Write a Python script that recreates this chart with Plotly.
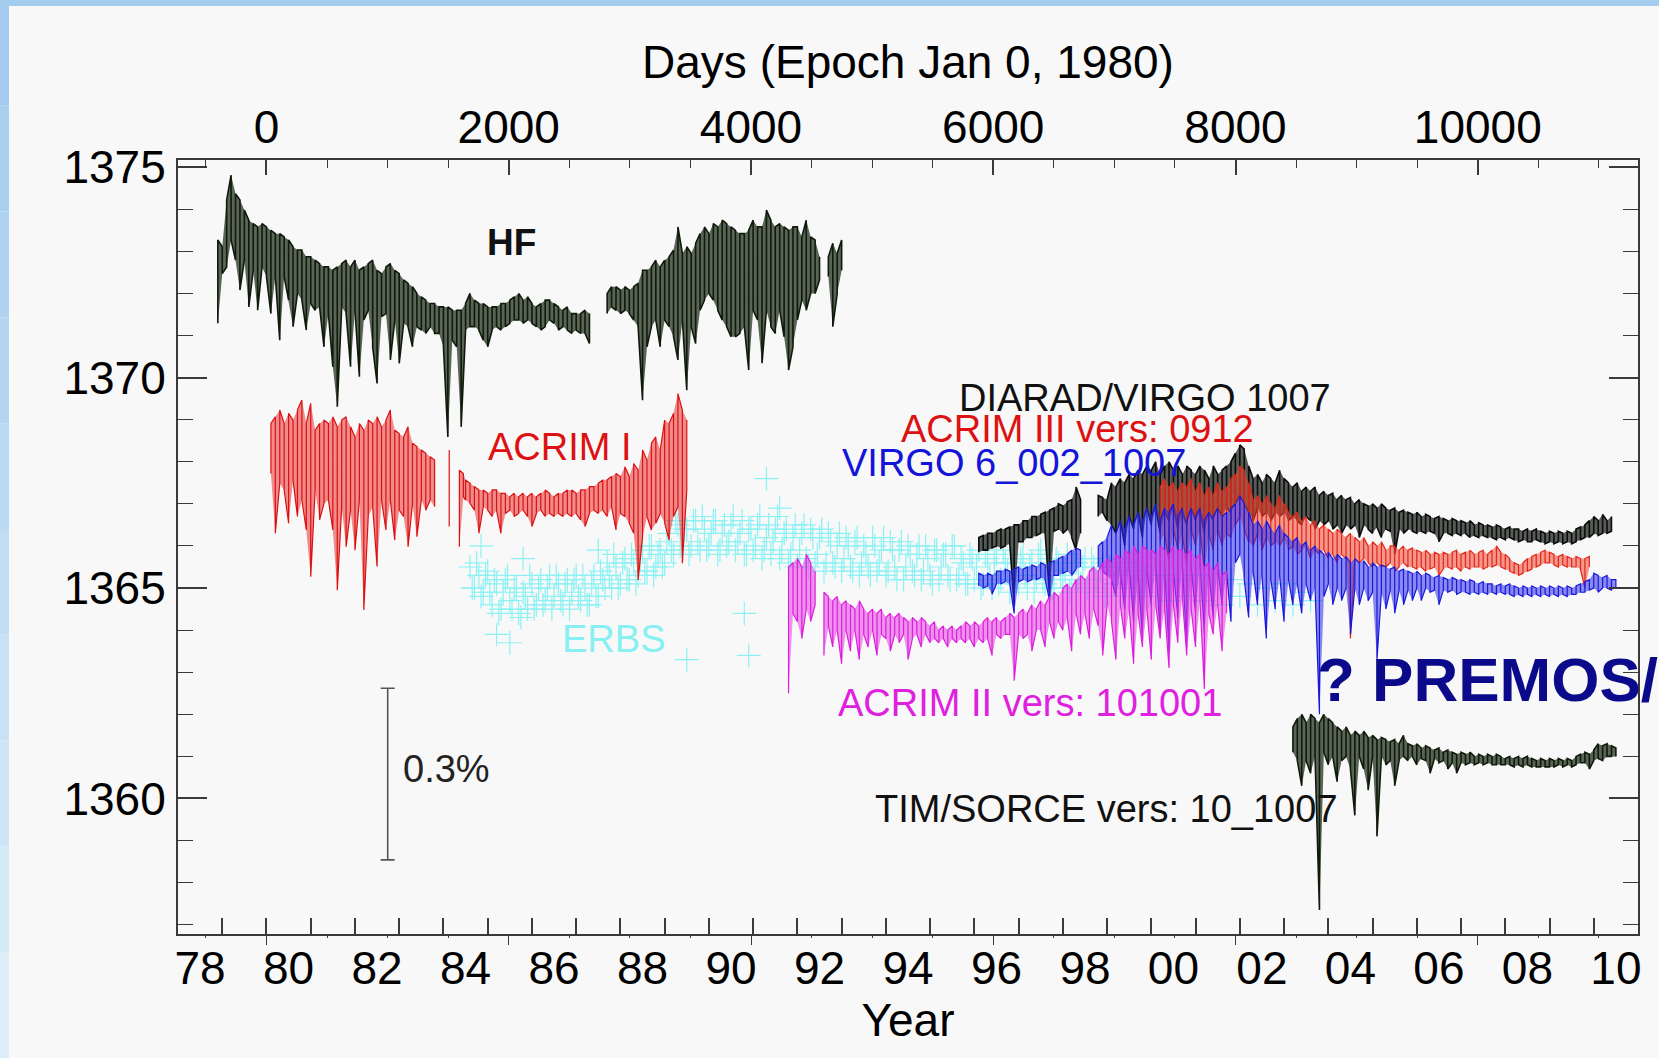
import plotly.graph_objects as go

# ---------------- data ----------------
hf_year = [1978.9,1979.0,1979.1,1979.2,1979.3,1979.4,1979.5,1979.6,1979.7,1979.8,1979.9,
           1980.0,1980.1,1980.2,1980.3,1980.4,1980.5,1980.6,1980.7,1980.8,1980.9,
           1981.0,1981.1,1981.2,1981.3,1981.4,1981.5,1981.6,1981.7,1981.8,1981.9,
           1982.0,1982.1,1982.2,1982.3,1982.4,1982.5,1982.6,1982.7,1982.8,1982.9,
           1983.0,1983.1,1983.2,1983.3,1983.4,1983.5,1983.6,1983.7,1983.8,1983.9,
           1984.0,1984.1,1984.2,1984.3,1984.4,1984.5,1984.6,1984.7,1984.8,1984.9,
           1985.0,1985.1,1985.2,1985.3,1985.4,1985.5,1985.6,1985.7,1985.8,1985.9,
           1986.0,1986.1,1986.2,1986.3,1986.4,1986.5,1986.6,1986.7,1986.8,1986.9,
           1987.0,1987.1,1987.2,1987.3,
           1987.7,1987.8,1987.9,1988.0,1988.1,1988.2,1988.3,1988.4,1988.5,1988.6,1988.7,1988.8,1988.9,
           1989.0,1989.1,1989.2,1989.3,1989.4,1989.5,1989.6,1989.7,1989.8,1989.9,
           1990.0,1990.1,1990.2,1990.3,1990.4,1990.5,1990.6,1990.7,1990.8,1990.9,
           1991.0,1991.1,1991.2,1991.3,1991.4,1991.5,1991.6,1991.7,1991.8,1991.9,
           1992.0,1992.1,1992.2,1992.3,1992.4,1992.5,
           1992.7,1992.8,1992.9,1993.0]
hf_hi = [1373.27,1373.11,1374.22,1374.81,1374.37,1374.22,1373.98,1373.74,1373.66,1373.58,1373.66,
         1373.58,1373.50,1373.42,1373.42,1373.34,1373.27,1373.11,1373.03,1373.03,1372.87,
         1372.87,1372.79,1372.71,1372.63,1372.63,1372.55,1372.63,1372.71,1372.79,1372.63,
         1372.79,1372.55,1372.63,1372.71,1372.79,1372.55,1372.47,1372.63,1372.71,1372.55,
         1372.47,1372.32,1372.24,1372.16,1372.00,1371.92,1371.84,1371.76,1371.76,1371.68,
         1371.68,1371.68,1371.60,1371.60,1371.60,1371.76,1372.00,1371.84,1371.76,1371.76,
         1371.68,1371.68,1371.68,1371.76,1371.76,1371.84,1371.92,1372.00,1371.84,1371.92,
         1371.76,1371.68,1371.76,1371.84,1371.84,1371.76,1371.68,1371.60,1371.68,1371.52,
         1371.52,1371.52,1371.60,1371.52,
         1372.00,1372.16,1372.16,1372.08,1372.16,1372.08,1372.16,1372.24,1372.55,1372.55,1372.63,1372.79,1372.63,
         1372.79,1372.87,1373.03,1373.58,1372.95,1373.11,1372.95,1373.19,1373.42,1373.58,
         1373.42,1373.66,1373.58,1373.74,1373.66,1373.58,1373.50,1373.42,1373.42,1373.50,
         1373.74,1373.58,1373.58,1373.98,1373.74,1373.58,1373.66,1373.58,1373.50,1373.58,
         1373.58,1373.34,1373.74,1373.34,1373.27,1372.87,
         1372.87,1373.19,1372.95,1373.27]
hf_lo = [1371.29,1372.47,1372.63,1373.27,1372.79,1372.08,1372.79,1371.68,1372.55,1371.60,1372.63,
         1372.40,1371.52,1372.40,1370.89,1372.40,1371.84,1371.21,1372.00,1371.84,1371.13,
         1371.76,1371.60,1371.68,1370.73,1371.52,1370.26,1369.31,1371.68,1371.52,1370.26,
         1371.60,1370.02,1371.37,1371.60,1370.73,1369.86,1371.45,1371.52,1370.42,1371.37,
         1370.34,1371.29,1371.21,1370.73,1371.21,1371.13,1371.05,1371.21,1371.05,1371.05,
         1370.73,1368.59,1370.89,1370.73,1368.83,1371.13,1371.21,1371.21,1371.13,1370.89,
         1370.73,1371.13,1371.21,1371.13,1371.21,1371.29,1371.37,1371.37,1371.29,1371.37,
         1371.29,1371.21,1371.13,1371.21,1371.37,1371.29,1371.13,1371.21,1371.13,1371.05,
         1371.13,1371.05,1371.05,1370.81,
         1371.52,1371.68,1371.60,1371.52,1371.60,1371.52,1371.37,1371.21,1369.46,1370.73,1371.21,1371.37,1370.73,
         1371.37,1371.21,1370.97,1370.42,1371.37,1369.70,1371.21,1370.81,1371.60,1371.84,
         1372.00,1371.84,1371.60,1371.37,1371.21,1370.97,1370.97,1371.05,1371.21,1370.18,
         1371.60,1371.37,1370.34,1371.60,1371.21,1371.05,1371.60,1370.97,1370.18,1370.73,
         1371.37,1371.84,1371.60,1372.00,1372.00,1372.32,
         1372.40,1371.21,1372.00,1372.55]

acrim1_year = [1980.1,1980.2,1980.3,1980.4,1980.5,1980.6,1980.7,1980.8,1980.9,
               1981.0,1981.1,1981.2,1981.3,1981.4,1981.5,1981.6,1981.7,1981.8,1981.9,
               1982.0,1982.1,1982.2,1982.3,1982.4,1982.5,1982.6,1982.7,1982.8,1982.9,
               1983.0,1983.1,1983.2,1983.3,1983.4,1983.5,1983.6,1983.7,1983.8,
               1984.13,
               1984.36,1984.45,1984.5,1984.6,1984.7,1984.8,1984.9,
               1985.0,1985.1,1985.2,1985.3,1985.4,1985.5,1985.6,1985.7,1985.8,1985.9,
               1986.0,1986.1,1986.2,1986.3,1986.4,1986.5,1986.6,1986.7,1986.8,1986.9,
               1987.0,1987.1,1987.2,1987.3,1987.4,1987.5,1987.6,1987.7,1987.8,1987.9,
               1988.0,1988.1,1988.2,1988.3,1988.4,1988.5,1988.6,1988.7,1988.8,1988.9,
               1989.0,1989.1,1989.2,1989.3,1989.4,1989.5]
acrim1_hi = [1368.91,1369.07,1369.23,1368.91,1369.15,1368.99,1369.23,1369.47,1368.91,
             1369.39,1368.75,1368.91,1368.99,1368.91,1369.07,1368.83,1368.99,1369.07,1368.83,
             1368.59,1368.91,1368.75,1368.99,1368.91,1369.07,1368.83,1368.99,1369.23,1368.75,
             1368.67,1368.59,1368.83,1368.44,1368.36,1368.28,1368.20,1368.12,1368.04,
             1368.28,
             1367.80,1367.72,1367.57,1367.49,1367.41,1367.33,1367.33,
             1367.25,1367.33,1367.33,1367.25,1367.25,1367.17,1367.25,1367.17,1367.25,1367.17,
             1367.25,1367.17,1367.25,1367.33,1367.25,1367.17,1367.25,1367.25,1367.33,1367.33,
             1367.25,1367.33,1367.33,1367.41,1367.41,1367.49,1367.57,1367.57,1367.65,1367.72,
             1367.65,1367.88,1367.65,1367.96,1367.80,1368.28,1368.04,1368.44,1368.59,1368.28,
             1368.99,1368.91,1369.15,1369.62,1369.23,1368.99]
acrim1_lo = [1367.72,1366.30,1367.49,1367.33,1366.54,1367.57,1366.70,1367.09,1366.38,
             1365.27,1367.33,1366.62,1367.01,1367.09,1366.38,1364.95,1366.93,1365.98,1366.85,
             1365.90,1367.09,1364.48,1366.70,1366.93,1365.51,1367.09,1366.38,1367.09,1366.14,
             1366.85,1366.70,1365.98,1367.01,1366.22,1367.09,1366.85,1367.09,1366.93,
             1366.46,
             1365.98,1367.17,1367.09,1367.01,1366.85,1366.30,1366.93,
             1366.85,1366.70,1366.85,1366.30,1366.77,1366.85,1366.70,1366.77,1366.85,1366.70,
             1366.46,1366.77,1366.85,1366.70,1366.77,1366.70,1366.77,1366.70,1366.77,1366.70,
             1366.77,1366.62,1366.46,1366.77,1366.85,1366.77,1366.85,1366.70,1366.93,1366.38,
             1366.77,1366.70,1366.54,1366.30,1365.19,1366.22,1366.70,1366.38,1366.54,1366.77,
             1366.54,1366.14,1366.70,1366.93,1365.59,1367.33]

erbs_year = [1984.6,1984.7,1984.8,1984.85,1984.9,1985.0,1985.1,1985.2,1985.2,1985.3,1985.4,1985.5,1985.5,
             1985.6,1985.7,1985.8,1985.8,1985.9,1986.0,1986.1,1986.2,1986.3,1986.4,1986.5,1986.6,
             1986.7,1986.8,1986.9,1987.0,1987.1,1987.2,1987.3,1987.4,1987.5,1987.5,1987.6,1987.7,
             1987.8,1987.9,1988.0,1988.1,1988.2,1988.3,1988.4,1988.5,1988.6,1988.7,1988.8,1988.9,
             1989.0,1989.1,1989.2,1989.3,1989.4,1989.5,1989.5,1989.6,1989.7,1989.8,1989.9,
             1990.0,1990.1,1990.2,1990.3,1990.4,1990.5,1990.6,1990.7,1990.8,1990.8,1990.9,1990.9,
             1991.0,1991.1,1991.2,1991.3,1991.3,1991.4,1991.5,1991.6,1991.6,1991.7,1991.8,1991.9,
             1992.0,1992.1,1992.2,1992.3,1992.4,1992.5,1992.6,1992.7,1992.8,1992.9,
             1993.0,1993.1,1993.2,1993.3,1993.4,1993.5,1993.6,1993.7,1993.8,1993.9,
             1994.0,1994.1,1994.2,1994.3,1994.4,1994.5,1994.6,1994.7,1994.8,1994.9,
             1995.0,1995.1,1995.2,1995.3,1995.4,1995.5,1995.6,1995.7,1995.8,1995.9,
             1996.0,1996.1,1996.2,1996.3,1996.4,1996.5,1996.6,1996.7,1996.8,1996.9,
             1997.0,1997.1,1997.2,1997.3,1997.4,1997.5,1997.6,1997.7,1997.8,1997.9,
             1998.0,1998.1,1998.2,1998.3,1998.4,1998.5,1998.6,1998.7,1998.8,1998.9,
             1999.0,1999.1,1999.2,1999.3,1999.4,1999.5,1999.6,1999.7,1999.8,1999.9,
             2000.0,2000.2,2000.4,2000.6,2000.8,2001.0,2001.2,2001.4,2001.6,2001.8,
             2002.0,2002.2,2002.4,2002.6,2002.8,2003.0,2003.2,2003.4,2003.6]
erbs_tsi = [1365.5,1365.0,1365.3,1366.0,1364.9,1365.4,1364.6,1365.1,1363.9,1364.5,1365.2,1364.7,1363.7,
            1365.0,1364.4,1365.7,1364.9,1364.5,1365.1,1364.6,1365.2,1364.7,1365.3,1364.8,1365.1,
            1364.6,1365.2,1364.9,1365.3,1364.7,1365.0,1364.6,1365.3,1365.9,1364.8,1365.2,1365.6,
            1365.0,1365.5,1365.1,1365.7,1365.2,1365.6,1365.3,1365.9,1365.4,1366.0,1365.5,1365.9,
            1365.6,1366.3,1365.8,1366.5,1365.9,1366.4,1363.3,1366.0,1366.6,1365.9,1366.4,
            1366.0,1366.6,1365.8,1366.3,1366.0,1366.5,1365.9,1366.3,1364.4,1365.8,1366.4,1363.4,
            1365.9,1366.5,1365.7,1367.6,1366.2,1365.8,1366.4,1366.9,1365.7,1366.3,1365.6,1366.2,
            1365.5,1366.3,1365.7,1366.4,1365.6,1366.2,1365.4,1366.3,1365.6,1366.0,
            1365.4,1366.2,1365.5,1366.1,1365.3,1366.0,1365.5,1366.2,1365.4,1365.9,
            1365.3,1366.1,1365.5,1365.9,1365.2,1366.0,1365.4,1365.8,1365.2,1366.0,
            1365.3,1365.9,1365.2,1365.8,1365.3,1366.0,1365.2,1365.7,1365.1,1365.8,
            1365.2,1365.9,1365.1,1365.7,1365.0,1365.8,1365.2,1365.6,1364.9,1365.7,
            1365.1,1365.8,1365.0,1365.6,1365.2,1365.9,1365.1,1365.7,1365.0,1365.6,
            1365.2,1365.8,1365.0,1365.6,1365.1,1365.7,1364.9,1365.5,1365.0,1365.6,
            1364.9,1365.5,1365.1,1365.7,1365.0,1365.4,1364.8,1365.5,1364.9,1365.3,
            1364.8,1365.3,1364.7,1365.2,1364.8,1365.3,1364.7,1365.1,1364.6,1365.2,
            1364.8,1365.1,1364.6,1365.0,1364.7,1365.1,1364.6,1364.9,1364.7]
erbs_year_b = [1984.65,1984.75,1984.85,1984.95,1985.05,
               1985.15,1985.25,1985.35,1985.45,1985.55,1985.65,1985.75,1985.85,1985.95,1986.05,1986.15,1986.25,
               1986.35,1986.45,1986.55,1986.65,1986.75,1986.85,1986.95,1987.05,1987.15,1987.25,1987.35,1987.45,1987.55,1987.65,
               1987.75,1987.85,1987.95,1988.05,1988.15,1988.25,1988.35,1988.45,
               1988.55,1988.65,1988.75,1988.85,1988.95,1989.05,
               1989.15,1989.25,1989.35,1989.45,1989.55,1989.65,1989.75,1989.85,1989.95,1990.05,1990.15,1990.25,1990.35,1990.45,1990.55,
               1990.65,1990.75,1990.85,1990.95,1991.05,1991.15,1991.25,1991.35,1991.45,1991.55,1991.65,1991.75,1991.85,1991.95,
               1992.05,1992.15,1992.25,1992.35,1992.45,1992.55,1992.65,1992.75,1992.85,1992.95,1993.05,1993.15,1993.25,1993.35,1993.45,
               1993.55,1993.65,1993.75,1993.85,1993.95,1994.05,1994.15,1994.25,1994.35,1994.45,1994.55,1994.65,1994.75,1994.85,1994.95,
               1995.05,1995.15,1995.25,1995.35,1995.45,1995.55,1995.65,1995.75,1995.85,1995.95,
               1996.05,1996.15,1996.25,1996.35,1996.45,1996.55,1996.65,1996.75,1996.85,1996.95,
               1997.05,1997.15,1997.25,1997.35,1997.45,1997.55,1997.65,1997.75,1997.85,1997.95,
               1998.05,1998.15,1998.25,1998.35,1998.45,1998.55,1998.65,1998.75,1998.85,1998.95,
               1999.05,1999.15,1999.25,1999.35,1999.45,1999.55,1999.65,1999.75,1999.85,1999.95]
erbs_tsi_b = [1365.0,1365.6,1364.8,1365.3,1364.9,
              1365.2,1364.4,1364.9,1365.3,1364.5,1365.0,1364.3,1364.8,1365.3,1364.5,1365.0,1364.6,
              1365.0,1364.5,1365.3,1364.7,1365.1,1364.5,1365.2,1364.8,1365.3,1364.6,1365.1,1364.8,1365.4,1365.0,
              1365.3,1365.8,1365.0,1365.6,1365.2,1365.8,1365.1,1365.7,
              1365.4,1366.0,1365.3,1365.8,1365.5,1366.1,
              1365.9,1366.6,1366.0,1366.4,1365.8,1366.6,1366.1,1366.7,1365.9,1366.3,1366.6,1365.9,1366.5,1366.1,1366.7,
              1366.1,1366.6,1365.8,1366.4,1366.0,1366.7,1365.9,1366.5,1366.1,1366.7,1365.9,1366.4,1365.8,1366.5,
              1365.9,1366.5,1365.5,1366.2,1365.8,1366.4,1365.6,1366.1,1365.5,1366.3,1365.7,1366.0,1365.4,1366.2,1365.6,
              1365.8,1365.3,1366.0,1365.6,1366.2,1365.4,1365.9,1365.2,1366.1,1365.5,1365.8,1365.3,1366.0,1365.4,1365.7,
              1365.1,1365.9,1365.5,1365.8,1365.2,1366.0,1365.3,1365.6,1365.1,1365.7,
              1365.5,1365.0,1365.8,1365.3,1365.6,1365.1,1365.9,1365.4,1365.6,1365.2,
              1365.7,1365.3,1365.5,1364.9,1365.8,1365.2,1365.6,1365.0,1365.7,1365.3,
              1365.4,1364.9,1365.6,1365.2,1365.5,1365.0,1365.7,1365.2,1365.4,1364.8,
              1365.5,1365.1,1365.3,1364.8,1365.6,1365.0,1365.4,1364.9,1365.2,1364.8]

acrim2_year = [1991.8,1991.9,1992.0,1992.1,1992.2,1992.3,1992.4,
               1992.6,1992.7,1992.8,1992.9,1993.0,1993.1,1993.2,1993.3,1993.4,1993.5,1993.6,1993.7,1993.8,1993.9,
               1994.0,1994.1,1994.2,1994.3,1994.4,1994.5,1994.6,1994.7,1994.8,1994.9,
               1995.0,1995.1,1995.2,1995.3,1995.4,1995.5,1995.6,1995.7,1995.8,1995.9,
               1996.0,1996.1,1996.2,1996.3,1996.4,1996.5,1996.6,1996.7,1996.8,1996.9,
               1997.0,1997.1,1997.2,1997.3,1997.4,1997.5,1997.6,1997.7,1997.8,1997.9,
               1998.0,1998.1,1998.2,1998.3,1998.4,1998.5,1998.6,1998.7,1998.8,1998.9,
               1999.0,1999.1,1999.2,1999.3,1999.4,1999.5,1999.6,1999.7,1999.8,1999.9,
               2000.0,2000.1,2000.2,2000.3,2000.4,2000.5,2000.6,2000.7,2000.8,2000.9,
               2001.0,2001.1,2001.2,2001.3,2001.4,2001.5,2001.6,2001.7]
acrim2_hi = [1365.5,1365.6,1365.7,1365.5,1365.8,1365.6,1365.4,
             1364.9,1364.8,1364.7,1364.8,1364.6,1364.7,1364.6,1364.5,1364.7,1364.5,1364.4,1364.5,1364.4,1364.5,
             1364.3,1364.4,1364.3,1364.4,1364.3,1364.2,1364.3,1364.2,1364.3,1364.2,
             1364.1,1364.2,1364.0,1364.1,1364.0,1364.1,1364.0,1364.1,1364.2,1364.1,
             1364.2,1364.1,1364.2,1364.3,1364.2,1364.3,1364.2,1364.3,1364.4,1364.3,
             1364.4,1364.5,1364.4,1364.6,1364.5,1364.7,1364.6,1364.8,1364.9,1364.8,
             1365.0,1365.1,1365.0,1365.2,1365.3,1365.2,1365.4,1365.5,1365.4,1365.6,
             1365.7,1365.6,1365.8,1365.7,1365.9,1365.8,1366.0,1365.8,1366.0,1365.9,
             1365.9,1365.8,1366.0,1365.9,1365.8,1366.0,1365.9,1365.9,1365.8,1365.9,
             1365.7,1365.8,1365.5,1365.6,1365.4,1365.6,1365.3,1365.4]
acrim2_lo = [1362.5,1364.4,1364.2,1363.8,1364.5,1364.2,1364.6,
             1363.4,1364.1,1363.6,1364.0,1363.2,1364.0,1363.5,1364.0,1363.3,1363.9,1363.6,1364.0,1363.4,1363.9,
             1363.8,1363.5,1363.9,1363.7,1363.9,1363.3,1363.8,1363.9,1363.6,1363.9,
             1363.7,1363.8,1363.7,1363.8,1363.6,1363.8,1363.7,1363.8,1363.7,1363.8,
             1363.6,1363.8,1363.7,1363.8,1363.4,1363.9,1363.8,1363.9,1363.9,1362.8,
             1363.9,1363.8,1363.9,1363.5,1364.0,1364.0,1363.6,1364.2,1363.8,1364.2,
             1364.0,1364.3,1363.5,1364.4,1363.9,1364.4,1363.8,1364.5,1364.1,1363.4,
             1364.6,1364.2,1363.3,1364.6,1363.8,1364.5,1363.2,1364.4,1363.6,1364.5,
             1363.3,1364.6,1363.8,1364.5,1363.1,1364.6,1363.7,1364.8,1363.4,1364.5,
             1363.6,1364.7,1362.6,1364.4,1363.9,1364.6,1363.5,1364.4]

diarad_year = [1996.1,1996.2,1996.3,1996.4,1996.5,1996.6,1996.7,1996.8,1996.9,
               1997.0,1997.1,1997.2,1997.3,1997.4,1997.5,1997.6,1997.7,1997.8,1997.9,
               1998.0,1998.1,1998.2,1998.3,1998.4,
               1998.8,1998.9,1999.0,1999.1,1999.2,1999.3,1999.4,1999.5,1999.6,1999.7,1999.8,1999.9,
               2000.0,2000.1,2000.2,2000.3,2000.4,2000.5,2000.6,2000.7,2000.8,2000.9,
               2001.0,2001.1,2001.2,2001.3,2001.4,2001.5,2001.6,2001.7,2001.8,2001.9,
               2002.0,2002.1,2002.2,2002.3,2002.4,2002.5,2002.6,2002.7,2002.8,2002.9,
               2003.0,2003.1,2003.2,2003.3,2003.4,2003.5,2003.6,2003.7,2003.8,2003.9,
               2004.0,2004.1,2004.2,2004.3,2004.4,2004.5,2004.6,2004.7,2004.8,2004.9,
               2005.0,2005.1,2005.2,2005.3,2005.4,2005.5,2005.6,2005.7,2005.8,2005.9,
               2006.0,2006.1,2006.2,2006.3,2006.4,2006.5,2006.6,2006.7,2006.8,2006.9,
               2007.0,2007.1,2007.2,2007.3,2007.4,2007.5,2007.6,2007.7,2007.8,2007.9,
               2008.0,2008.1,2008.2,2008.3,2008.4,2008.5,2008.6,2008.7,2008.8,2008.9,
               2009.0,2009.1,2009.2,2009.3,2009.4,2009.5,2009.6,2009.7,2009.8,2009.9,
               2010.0,2010.1,2010.2,2010.3,2010.4]
diarad_hi = [1366.2,1366.25,1366.3,1366.3,1366.35,1366.4,1366.4,1366.45,1366.5,
             1366.5,1366.6,1366.6,1366.7,1366.7,1366.75,1366.8,1366.85,1366.9,1367.0,
             1366.95,1367.05,1367.1,1367.4,1367.1,
             1367.2,1367.15,1367.1,1367.5,1367.4,1367.6,1367.5,1367.7,1367.6,1367.8,1367.7,1367.9,
             1367.8,1368.0,1367.7,1367.9,1368.0,1367.8,1367.9,1367.7,1367.9,1367.8,
             1367.7,1367.9,1367.8,1367.6,1367.9,1367.7,1367.8,1367.9,1368.0,1368.2,
             1368.4,1368.3,1367.9,1367.6,1367.7,1367.5,1367.7,1367.6,1367.5,1367.8,
             1367.6,1367.5,1367.4,1367.5,1367.3,1367.4,1367.3,1367.4,1367.2,1367.3,
             1367.2,1367.25,1367.1,1367.2,1367.1,1367.15,1367.0,1367.1,1367.0,1366.95,
             1367.0,1366.9,1367.0,1366.9,1366.85,1366.9,1366.8,1366.85,1366.8,1366.75,
             1366.8,1366.7,1366.75,1366.7,1366.65,1366.7,1366.65,1366.6,1366.65,1366.6,
             1366.6,1366.55,1366.6,1366.5,1366.55,1366.5,1366.5,1366.45,1366.5,1366.45,
             1366.4,1366.45,1366.4,1366.4,1366.35,1366.4,1366.35,1366.4,1366.35,1366.3,
             1366.35,1366.3,1366.35,1366.3,1366.35,1366.3,1366.4,1366.45,1366.5,1366.6,
             1366.7,1366.6,1366.75,1366.6,1366.7]
diarad_lo = [1365.85,1365.9,1365.9,1365.95,1366.0,1365.95,1366.0,1366.05,1364.6,
             1366.1,1366.1,1366.2,1366.2,1366.25,1366.3,1366.3,1364.8,1366.35,1366.4,
             1366.3,1366.4,1366.2,1365.9,1366.3,
             1366.7,1366.8,1366.6,1366.5,1366.3,1366.6,1366.0,1366.7,1366.4,1366.8,1366.2,1366.9,
             1366.5,1366.9,1366.3,1366.8,1366.6,1366.9,1366.4,1366.8,1366.5,1366.9,
             1366.6,1366.8,1366.3,1366.8,1366.6,1366.9,1366.7,1366.9,1366.8,1367.0,
             1367.2,1367.0,1366.8,1366.6,1366.9,1366.7,1366.8,1366.6,1366.8,1366.7,
             1366.8,1366.6,1366.7,1366.6,1366.5,1366.7,1366.6,1366.4,1366.6,1366.5,
             1366.6,1366.4,1366.5,1366.3,1366.5,1366.4,1366.5,1366.2,1366.5,1366.4,
             1366.3,1366.45,1366.2,1366.4,1366.35,1365.8,1366.4,1366.3,1366.4,1366.35,
             1366.3,1366.35,1366.3,1366.35,1366.3,1366.1,1366.3,1366.3,1366.25,1366.3,
             1366.25,1366.3,1366.2,1366.25,1366.2,1366.25,1366.2,1366.2,1366.15,1366.2,
             1366.15,1366.2,1366.15,1366.1,1366.15,1366.1,1366.1,1366.15,1366.1,1366.05,
             1366.1,1366.05,1366.1,1366.05,1366.1,1366.05,1366.1,1366.15,1366.2,1366.2,
             1366.3,1366.25,1366.3,1366.3,1366.35]

acrim3_year = [2000.2,2000.3,2000.4,2000.5,2000.6,2000.7,2000.8,2000.9,
               2001.0,2001.1,2001.2,2001.3,2001.4,2001.5,2001.6,2001.7,2001.8,2001.9,
               2002.0,2002.1,2002.2,2002.3,2002.4,2002.5,2002.6,2002.7,2002.8,2002.9,
               2003.0,2003.1,2003.2,2003.3,2003.4,2003.5,2003.6,2003.7,2003.8,2003.9,
               2004.0,2004.1,2004.2,2004.3,2004.4,2004.5,2004.6,2004.7,2004.8,2004.9,
               2005.0,2005.1,2005.2,2005.3,2005.4,2005.5,2005.6,2005.7,2005.8,2005.9,
               2006.0,2006.1,2006.2,2006.3,2006.4,2006.5,2006.6,2006.7,2006.8,2006.9,
               2007.0,2007.1,2007.2,2007.3,2007.4,2007.5,2007.6,2007.7,2007.8,2007.9,
               2008.0,2008.1,2008.2,2008.3,2008.4,2008.5,2008.6,2008.7,2008.8,2008.9,
               2009.0,2009.1,2009.2,2009.3,2009.4,2009.5,2009.6,2009.7,2009.8,2009.9]
acrim3_hi = [1367.4,1367.6,1367.4,1367.5,1367.3,1367.5,1367.4,1367.6,
             1367.3,1367.5,1367.2,1367.4,1367.2,1367.5,1367.3,1367.4,1367.6,1367.7,
             1367.9,1367.8,1367.5,1367.1,1367.2,1367.0,1367.2,1367.0,1366.9,1367.2,
             1367.0,1366.8,1366.7,1366.8,1366.6,1366.7,1366.5,1366.6,1366.4,1366.5,
             1366.4,1366.3,1366.4,1366.3,1366.2,1366.3,1366.2,1366.1,1366.2,1366.0,
             1366.1,1366.0,1366.1,1365.9,1366.0,1366.0,1365.9,1366.0,1365.9,1365.95,
             1365.9,1365.85,1365.9,1365.8,1365.85,1365.8,1365.85,1365.8,1365.85,1365.9,
             1365.8,1365.85,1365.9,1365.8,1365.85,1365.9,1365.8,1365.9,1366.0,1365.85,
             1365.8,1365.7,1365.6,1365.55,1365.6,1365.7,1365.75,1365.8,1365.85,1365.9,
             1365.85,1365.8,1365.75,1365.8,1365.75,1365.7,1365.75,1365.7,1365.7,1365.75]
acrim3_lo = [1366.1,1366.3,1365.6,1366.4,1365.9,1366.3,1365.5,1366.4,
             1366.0,1366.4,1365.4,1366.3,1365.9,1366.4,1366.0,1366.3,1366.2,1366.5,
             1366.7,1366.4,1366.1,1366.0,1366.3,1365.9,1366.2,1366.0,1366.1,1366.0,
             1366.2,1365.9,1366.0,1365.8,1365.9,1366.0,1365.7,1365.9,1365.8,1365.9,
             1365.7,1365.8,1365.6,1365.8,1365.7,1363.8,1365.7,1365.6,1365.7,1365.6,
             1365.5,1365.6,1365.5,1365.5,1365.6,1365.4,1365.5,1365.6,1365.5,1365.5,
             1365.45,1365.5,1365.4,1365.45,1365.5,1365.3,1365.45,1365.5,1365.45,1365.5,
             1365.4,1365.5,1365.45,1365.5,1365.5,1365.45,1365.5,1365.5,1365.55,1365.5,
             1365.45,1365.4,1365.35,1365.3,1365.35,1365.4,1365.45,1365.5,1365.55,1365.6,
             1365.6,1365.55,1365.5,1365.55,1365.5,1365.5,1365.5,1365.45,1365.0,1365.5]

virgo_year = [1996.1,1996.2,1996.3,1996.4,1996.5,1996.6,1996.7,1996.8,1996.9,
              1997.0,1997.1,1997.2,1997.3,1997.4,1997.5,1997.6,1997.7,1997.8,1997.9,
              1998.0,1998.1,1998.2,1998.3,1998.4,
              1998.8,1998.9,1999.0,1999.1,1999.2,1999.3,1999.4,1999.5,1999.6,1999.7,1999.8,1999.9,
              2000.0,2000.1,2000.2,2000.3,2000.4,2000.5,2000.6,2000.7,2000.8,2000.9,
              2001.0,2001.1,2001.2,2001.3,2001.4,2001.5,2001.6,2001.7,2001.8,2001.9,
              2002.0,2002.1,2002.2,2002.3,2002.4,2002.5,2002.6,2002.7,2002.8,2002.9,
              2003.0,2003.1,2003.2,2003.3,2003.4,2003.5,2003.6,2003.7,2003.8,2003.9,
              2004.0,2004.1,2004.2,2004.3,2004.4,2004.5,2004.6,2004.7,2004.8,2004.9,
              2005.0,2005.1,2005.2,2005.3,2005.4,2005.5,2005.6,2005.7,2005.8,2005.9,
              2006.0,2006.1,2006.2,2006.3,2006.4,2006.5,2006.6,2006.7,2006.8,2006.9,
              2007.0,2007.1,2007.2,2007.3,2007.4,2007.5,2007.6,2007.7,2007.8,2007.9,
              2008.0,2008.1,2008.2,2008.3,2008.4,2008.5,2008.6,2008.7,2008.8,2008.9,
              2009.0,2009.1,2009.2,2009.3,2009.4,2009.5,2009.6,2009.7,2009.8,2009.9,
              2010.0,2010.1,2010.2,2010.3,2010.4,2010.5]
virgo_hi = [1365.35,1365.3,1365.35,1365.3,1365.4,1365.4,1365.45,1365.4,1365.45,
            1365.5,1365.45,1365.5,1365.55,1365.5,1365.6,1365.55,1365.6,1365.65,1365.7,
            1365.75,1365.8,1365.9,1365.95,1365.9,
            1366.0,1366.1,1366.2,1366.5,1366.3,1366.6,1366.4,1366.7,1366.5,1366.8,1366.6,1366.9,
            1366.7,1367.0,1366.6,1366.9,1366.8,1367.0,1366.7,1366.9,1366.6,1366.9,
            1366.7,1366.9,1366.6,1366.8,1366.7,1366.9,1366.7,1366.8,1366.9,1367.0,
            1367.2,1367.0,1366.8,1366.5,1366.6,1366.4,1366.6,1366.4,1366.3,1366.5,
            1366.3,1366.2,1366.1,1366.2,1366.0,1366.1,1365.9,1366.0,1365.9,1365.8,
            1365.85,1365.7,1365.8,1365.7,1365.75,1365.6,1365.7,1365.6,1365.65,1365.5,
            1365.6,1365.5,1365.55,1365.5,1365.45,1365.5,1365.4,1365.45,1365.4,1365.35,
            1365.4,1365.3,1365.35,1365.3,1365.25,1365.3,1365.25,1365.2,1365.25,1365.2,
            1365.2,1365.15,1365.2,1365.15,1365.1,1365.15,1365.1,1365.1,1365.05,1365.1,
            1365.05,1365.1,1365.05,1365.0,1365.05,1365.0,1365.05,1365.0,1365.05,1365.0,
            1365.05,1365.0,1365.05,1365.0,1365.05,1365.0,1365.05,1365.1,1365.15,1365.2,
            1365.35,1365.3,1365.25,1365.3,1365.2,1365.2]
virgo_lo = [1365.05,1365.0,1365.05,1364.85,1365.1,1365.1,1365.15,1365.1,1364.4,
            1365.15,1365.2,1365.15,1365.2,1365.2,1365.25,1365.2,1364.7,1365.3,1365.3,
            1365.35,1365.4,1365.3,1365.45,1365.5,
            1365.5,1365.4,1365.3,1365.2,1364.8,1365.4,1364.5,1365.5,1364.2,1365.3,1363.8,1365.4,
            1364.6,1365.6,1363.9,1365.5,1363.5,1365.4,1364.3,1365.6,1363.6,1365.5,
            1364.4,1365.6,1363.9,1365.4,1364.3,1365.5,1364.6,1365.4,1364.2,1365.6,
            1365.8,1365.2,1364.3,1365.4,1364.6,1365.3,1363.8,1365.2,1364.5,1365.3,
            1364.2,1365.2,1364.6,1365.1,1364.4,1365.1,1364.7,1365.0,1362.0,1364.8,
            1365.1,1364.6,1365.0,1364.7,1365.0,1363.9,1365.0,1364.6,1365.0,1364.7,
            1364.9,1363.3,1364.9,1364.5,1364.95,1364.4,1364.95,1364.6,1364.95,1364.7,
            1365.0,1364.7,1365.0,1364.9,1364.95,1364.6,1364.95,1364.9,1364.95,1364.85,
            1364.9,1364.9,1364.85,1364.9,1364.85,1364.9,1364.85,1364.9,1364.85,1364.9,
            1364.85,1364.85,1364.8,1364.85,1364.8,1364.85,1364.8,1364.85,1364.8,1364.85,
            1364.8,1364.85,1364.8,1364.85,1364.8,1364.85,1364.85,1364.9,1364.9,1364.95,
            1365.0,1364.9,1365.0,1365.0,1364.95,1365.0]

tim_year = [2003.2,2003.3,2003.4,2003.5,2003.6,2003.7,2003.8,2003.9,
            2004.0,2004.1,2004.2,2004.3,2004.4,2004.5,2004.6,2004.7,2004.8,2004.9,
            2005.0,2005.1,2005.2,2005.3,2005.4,2005.5,2005.6,2005.7,2005.8,2005.9,
            2006.0,2006.1,2006.2,2006.3,2006.4,2006.5,2006.6,2006.7,2006.8,2006.9,
            2007.0,2007.1,2007.2,2007.3,2007.4,2007.5,2007.6,2007.7,2007.8,2007.9,
            2008.0,2008.1,2008.2,2008.3,2008.4,2008.5,2008.6,2008.7,2008.8,2008.9,
            2009.0,2009.1,2009.2,2009.3,2009.4,2009.5,2009.6,2009.7,2009.8,2009.9,
            2010.0,2010.1,2010.2,2010.3,2010.4,2010.5]
tim_hi = [1361.7,1361.9,1362.0,1361.8,1362.0,1361.9,1361.8,1362.0,
          1361.9,1361.8,1361.7,1361.6,1361.7,1361.5,1361.6,1361.5,1361.6,1361.45,
          1361.5,1361.4,1361.45,1361.4,1361.35,1361.4,1361.3,1361.5,1361.3,1361.25,
          1361.3,1361.2,1361.25,1361.2,1361.15,1361.2,1361.1,1361.15,1361.1,1361.05,
          1361.1,1361.05,1361.1,1361.0,1361.05,1361.0,1361.05,1361.0,1361.05,1361.0,
          1360.95,1361.0,1360.95,1361.0,1360.95,1361.0,1360.95,1360.9,1360.95,1360.9,
          1360.95,1360.9,1360.95,1360.9,1360.95,1360.9,1361.0,1361.05,1361.1,1361.05,
          1361.15,1361.3,1361.25,1361.3,1361.25,1361.2]
tim_lo = [1361.1,1360.9,1360.3,1360.9,1360.6,1361.0,1357.35,1361.1,
          1360.8,1361.0,1360.4,1360.9,1361.0,1360.7,1359.6,1361.0,1360.7,1360.2,
          1361.0,1359.1,1361.0,1360.8,1360.9,1360.3,1360.9,1361.0,1360.9,1361.0,
          1360.8,1360.95,1360.9,1360.6,1360.95,1360.85,1360.9,1360.7,1360.85,1360.6,
          1360.85,1360.8,1360.85,1360.8,1360.85,1360.8,1360.85,1360.8,1360.8,1360.8,
          1360.8,1360.8,1360.75,1360.8,1360.75,1360.8,1360.75,1360.75,1360.75,1360.75,
          1360.75,1360.75,1360.8,1360.75,1360.8,1360.75,1360.8,1360.85,1360.85,1360.7,
          1360.9,1360.95,1360.9,1361.0,1361.0,1361.0]

# scale bar: 0.3 % of the mean TSI, centred on this level
scale_year = [1982.74]
scale_center = [1360.58]
scale_half = [2.04]

year_labels = ['78','80','82','84','86','88','90','92','94','96','98',
               '00','02','04','06','08','10']
year_label_pos = [1978.5,1980.5,1982.5,1984.5,1986.5,1988.5,1990.5,1992.5,1994.5,
                  1996.5,1998.5,2000.5,2002.5,2004.5,2006.5,2008.5,2010.5]
day_ticks = [0, 2000, 4000, 6000, 8000, 10000]
tsi_ticks = [1360, 1365, 1370, 1375]

# ---------------- drawing ----------------
X0, X1 = 1978.0, 2011.0
DAYS_PER_YEAR = 365.25
D0, D1 = (X0 - 1980.0) * DAYS_PER_YEAR, (X1 - 1980.0) * DAYS_PER_YEAR
Y0, Y1 = 1356.78, 1375.17
FONT = 'Liberation Sans, Arial, Helvetica, sans-serif'
AX = '#3a3a3a'
GAP = 0.16


def segments(t, hi, lo):
    segs, cur = [], [[], [], []]
    for i in range(len(t)):
        if i > 0 and t[i] - t[i - 1] > GAP:
            segs.append(cur)
            cur = [[], [], []]
        cur[0].append(t[i]); cur[1].append(hi[i]); cur[2].append(lo[i])
    segs.append(cur)
    return segs


def zigzag(t, hi, lo):
    xs, ys = [], []
    for st, sh, sl in segments(t, hi, lo):
        up = True
        for tt, h, l in zip(st, sh, sl):
            xs += [tt, tt]
            ys += ([l, h] if up else [h, l])
            up = not up
        xs.append(None); ys.append(None)
    return xs, ys


def envelope(t, hi, lo):
    xs, ys = [], []
    for st, sh, sl in segments(t, hi, lo):
        xs += st + st[::-1] + [st[0], None]
        ys += sh + sl[::-1] + [sh[0], None]
    return xs, ys


fig = go.Figure()

fig.add_trace(go.Scatter(x=erbs_year + erbs_year_b, y=erbs_tsi + erbs_tsi_b, mode='markers',
                         marker=dict(symbol='cross-thin', size=17,
                                     line=dict(width=1.2, color='#8cf1f3')),
                         hoverinfo='skip'))

# (years, hi, lo, line colour, envelope fill, line width)
series = [
    (hf_year, hf_hi, hf_lo, '#0f1a0b', 'rgba(28,44,24,0.72)', 1.6),
    (acrim1_year, acrim1_hi, acrim1_lo, '#dc1010', 'rgba(232,50,50,0.55)', 1.2),
    (diarad_year, diarad_hi, diarad_lo, '#0c0c0c', 'rgba(25,32,25,0.72)', 1.6),
    (acrim3_year, acrim3_hi, acrim3_lo, '#e42516', 'rgba(238,70,50,0.55)', 1.2),
    (virgo_year, virgo_hi, virgo_lo, '#1818dc', 'rgba(45,45,232,0.55)', 1.2),
    (acrim2_year, acrim2_hi, acrim2_lo, '#dc1edc', 'rgba(228,60,228,0.55)', 1.2),
    (tim_year, tim_hi, tim_lo, '#0f1a0b', 'rgba(28,44,24,0.72)', 1.6),
]
for t, hi, lo, col, fillc, w in series:
    ex, ey = envelope(t, hi, lo)
    fig.add_trace(go.Scatter(x=ex, y=ey, mode='lines', fill='toself', fillcolor=fillc,
                             line=dict(width=0, color=fillc), hoverinfo='skip'))
    xs, ys = zigzag(t, hi, lo)
    fig.add_trace(go.Scatter(x=xs, y=ys, mode='lines',
                             line=dict(color=col, width=w),
                             hoverinfo='skip', connectgaps=False))

fig.add_trace(go.Scatter(x=scale_year, y=scale_center, mode='markers',
                         marker=dict(size=1, color='rgba(0,0,0,0)'),
                         error_y=dict(type='data', array=scale_half, visible=True,
                                      color='#555555', thickness=1.6, width=7),
                         hoverinfo='skip'))

# empty traces to activate the overlay axes
for ax in ['x2', 'x3', 'x4']:
    fig.add_trace(go.Scatter(x=[], y=[], xaxis=ax, yaxis='y', hoverinfo='skip'))

labels = [
    ('HF', 1985.54, 1373.22, '#111111', 37, True, 'center'),
    ('ACRIM I', 1986.63, 1368.34, '#dd1111', 38, False, 'center'),
    ('ERBS', 1987.85, 1363.79, '#86f0f2', 38, False, 'center'),
    ('DIARAD/VIRGO 1007', 1999.86, 1369.51, '#111111', 38, False, 'center'),
    ('ACRIM III vers: 0912', 1998.33, 1368.77, '#dd1111', 38, False, 'center'),
    ('VIRGO 6_002_1007', 1996.89, 1367.96, '#1414d8', 38, False, 'center'),
    ('ACRIM II vers: 101001', 1997.26, 1362.28, '#e020e0', 38, False, 'center'),
    ('TIM/SORCE vers: 10_1007', 1998.99, 1359.74, '#111111', 38, False, 'center'),
    ('0.3%', 1983.03, 1360.70, '#222222', 38, False, 'left'),
]
annotations = []
for txt, x, y, col, size, bold, anchor in labels:
    annotations.append(dict(x=x, y=y, xref='x', yref='y', text=('<b>%s</b>' % txt) if bold else txt,
                            showarrow=False, xanchor=anchor, yanchor='middle',
                            font=dict(family=FONT, size=size, color=col)))
annotations.append(dict(x=2003.71, y=1362.83, xref='x', yref='y', text='<b>? PREMOS/</b>',
                        showarrow=False, xanchor='left', yanchor='middle',
                        font=dict(family=FONT, size=62, color='#0a0a8a')))

# slide border (light blue strips at top and left)
W, H = 1659, 1058
ML, MR, MT, MB = 178, 21, 160, 124
PW, PH = W - ML - MR, H - MT - MB


def px_to_paper_x(px):
    return (px - ML) / PW


def px_to_paper_y(py):
    return (H - MB - py) / PH


shapes = [dict(type='rect', xref='paper', yref='paper', layer='below',
               x0=px_to_paper_x(0), x1=px_to_paper_x(W), y0=px_to_paper_y(6), y1=px_to_paper_y(0),
               fillcolor='#a4ccee', line=dict(width=0))]
left_cols = ['#a4ccee', '#a9cfef', '#aed2f0', '#b4d5f1', '#bad9f2', '#c1ddf3',
             '#c8e1f4', '#cfe5f5', '#d6e9f6', '#ddedf7']
n = len(left_cols)
for i, c in enumerate(left_cols):
    shapes.append(dict(type='rect', xref='paper', yref='paper', layer='below',
                       x0=px_to_paper_x(0), x1=px_to_paper_x(9),
                       y0=px_to_paper_y(H * (i + 1) / n), y1=px_to_paper_y(H * i / n),
                       fillcolor=c, line=dict(width=0)))

tickfont = dict(family=FONT, size=46, color='#000000')
fig.update_layout(
    width=W, height=H, margin=dict(l=ML, r=MR, t=MT, b=MB, autoexpand=False),
    paper_bgcolor='#f8f8f8', plot_bgcolor='#f8f8f8', showlegend=False,
    font=dict(family=FONT, color='#000000'),
    annotations=annotations, shapes=shapes,
    xaxis=dict(range=[X0, X1], tickvals=list(range(1979, 2011)), ticks='inside',
               ticklen=16, tickwidth=1.6, tickcolor=AX, showticklabels=False,
               showline=True, linecolor=AX, linewidth=2, showgrid=False, zeroline=False),
    xaxis2=dict(overlaying='x', side='top', anchor='y', range=[D0, D1],
                tickvals=day_ticks, ticktext=[str(d) for d in day_ticks],
                ticks='inside', ticklen=15, tickwidth=1.6, tickcolor=AX,
                minor=dict(dtick=500, tick0=0, ticks='inside', ticklen=8,
                           tickwidth=1.4, tickcolor=AX, showgrid=False),
                showline=True, linecolor=AX, linewidth=2, showgrid=False, zeroline=False,
                tickfont=tickfont, ticklabelstandoff=-3,
                title=dict(text='Days (Epoch Jan 0, 1980)', font=tickfont, standoff=7)),
    xaxis3=dict(overlaying='x', side='bottom', anchor='y', range=[X0, X1],
                tickvals=year_label_pos, ticktext=year_labels, ticks='',
                showline=False, showgrid=False, zeroline=False, tickfont=tickfont,
                ticklabelstandoff=3,
                title=dict(text='Year', font=tickfont, standoff=4)),
    xaxis4=dict(overlaying='x', side='bottom', anchor='y', range=[D0, D1],
                tickvals=day_ticks, ticks='outside', ticklen=10, tickwidth=1.4, tickcolor=AX,
                minor=dict(dtick=500, tick0=0, ticks='outside', ticklen=3,
                           tickwidth=1.2, tickcolor=AX, showgrid=False),
                showticklabels=False, showline=False, showgrid=False, zeroline=False),
    yaxis=dict(range=[Y0, Y1], tickvals=tsi_ticks, ticktext=[str(v) for v in tsi_ticks],
               ticks='inside', ticklen=29, tickwidth=1.6, tickcolor=AX,
               minor=dict(dtick=1, tick0=1360, ticks='inside', ticklen=15,
                          tickwidth=1.4, tickcolor=AX, showgrid=False),
               mirror='ticks', showline=True, linecolor=AX, linewidth=2,
               showgrid=False, zeroline=False, tickfont=tickfont, ticklabelstandoff=1),
)

fig.write_html('out.html')
